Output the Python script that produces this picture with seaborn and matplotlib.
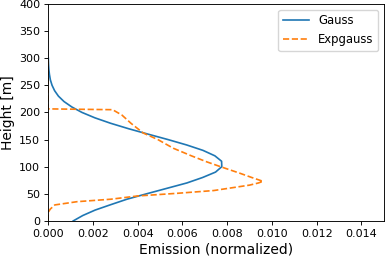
import numpy as np
import pandas as pd
import matplotlib
matplotlib.use("Agg")
import matplotlib.pyplot as plt
import seaborn as sns

# heights [m] and normalized emission
gauss_height = [0, 10, 20, 30, 40, 50, 60, 70, 80, 90, 100, 110, 120, 130, 140, 150,
                160, 170, 180, 190, 200, 210, 220, 230, 240, 250, 260, 270, 280, 290, 300]
gauss_emis = [0.00112, 0.00155, 0.00210, 0.00280, 0.00352, 0.00440, 0.00530, 0.00620,
              0.00690, 0.00748, 0.00776, 0.00775, 0.00745, 0.00692, 0.00619, 0.00535,
              0.00446, 0.00359, 0.00279, 0.00209, 0.00151, 0.00106, 0.00071, 0.00046,
              0.00029, 0.000175, 0.00010, 0.000058, 0.000031, 0.000016, 0.000008]

exp_height = [0, 10, 17, 22, 29.5, 35.5, 40, 46, 51, 56, 61, 66, 70, 73, 80, 88, 100,
              109, 120, 134, 150, 162, 180, 195, 205, 206.5, 300]
exp_emis = [0, 0, 0.00002, 0.0001, 0.0003, 0.0013, 0.0028, 0.0040, 0.0058, 0.0074,
            0.0082, 0.0090, 0.0094, 0.0096, 0.0091, 0.00856, 0.0077, 0.00708,
            0.0064, 0.00559, 0.0049, 0.00425, 0.0037, 0.0033, 0.00288, 0, 0]

plt.rcParams["axes.linewidth"] = 0.65
plt.rcParams["xtick.major.width"] = 0.65
plt.rcParams["ytick.major.width"] = 0.65
plt.rcParams["xtick.major.size"] = 3
plt.rcParams["ytick.major.size"] = 3

fig, ax = plt.subplots(figsize=(3.85, 2.59), dpi=100)
fig.subplots_adjust(left=0.125, right=0.997, top=0.985, bottom=0.147)

sns.lineplot(x=gauss_emis, y=gauss_height, orient="y", sort=False, estimator=None,
             color="tab:blue", linewidth=1.2, label="Gauss", ax=ax)
sns.lineplot(x=exp_emis, y=exp_height, orient="y", sort=False, estimator=None,
             color="tab:orange", linestyle="--", linewidth=1.2, label="Expgauss", ax=ax)

ax.set_xlim(0, 0.015)
ax.set_ylim(0, 400)
ax.set_xticks(np.arange(0, 0.0141, 0.002))
ax.set_xlabel("Emission (normalized)", fontsize=10, labelpad=2.5)
ax.set_ylabel("Height [m]", fontsize=10, labelpad=3)
ax.tick_params(labelsize=8, pad=2.8)
ax.legend(loc="upper right", fontsize=8.4, handlelength=2.2)

fig.savefig("out.png", dpi=100)
